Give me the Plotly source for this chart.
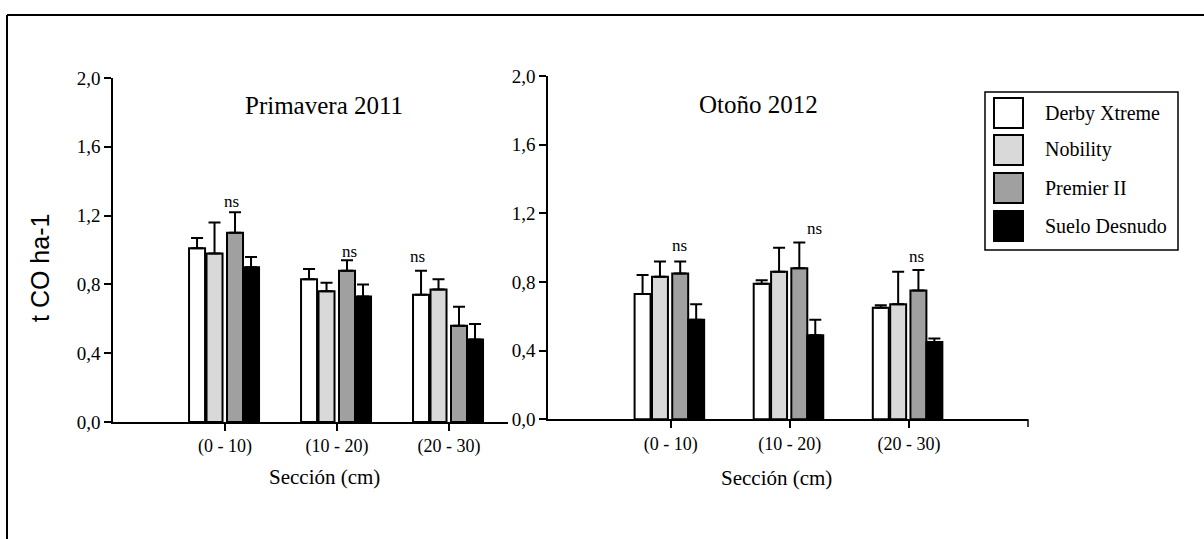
import plotly.graph_objects as go

# Depth sections and treatments
secciones = ["(0 - 10)", "(10 - 20)", "(20 - 30)"]
tratamientos = ["Derby Xtreme", "Nobility", "Premier II", "Suelo Desnudo"]
colores = ["#ffffff", "#d9d9d9", "#a0a0a0", "#000000"]

# Primavera 2011: means (t CO ha-1) and upper error
prim_derby = [1.01, 0.83, 0.74]
prim_nobility = [0.98, 0.76, 0.77]
prim_premier = [1.10, 0.88, 0.56]
prim_suelo = [0.90, 0.73, 0.48]
prim_err_derby = [0.06, 0.06, 0.14]
prim_err_nobility = [0.18, 0.05, 0.06]
prim_err_premier = [0.12, 0.06, 0.11]
prim_err_suelo = [0.06, 0.07, 0.09]

# Otoño 2012: means (t CO ha-1) and upper error
oto_derby = [0.73, 0.79, 0.65]
oto_nobility = [0.83, 0.86, 0.67]
oto_premier = [0.85, 0.88, 0.75]
oto_suelo = [0.58, 0.49, 0.45]
oto_err_derby = [0.11, 0.02, 0.015]
oto_err_nobility = [0.09, 0.14, 0.19]
oto_err_premier = [0.07, 0.15, 0.12]
oto_err_suelo = [0.09, 0.09, 0.02]

# "ns" labels: (section index shift, height) per panel
ns_prim = [(0.06, 1.28), (0.11, 0.99), (-0.28, 0.965)]
ns_oto = [(0.07, 1.01), (0.21, 1.11), (0.065, 0.95)]

W, H = 1204, 539
SERIF = "Liberation Serif"


def px(x):
    return x / W


def py(y):
    return 1 - y / H


fig = go.Figure()

panels = [
    ("x", "y", [prim_derby, prim_nobility, prim_premier, prim_suelo],
     [prim_err_derby, prim_err_nobility, prim_err_premier, prim_err_suelo],
     [-0.321, -0.165, 0.018, 0.161], 0.143),
    ("x2", "y2", [oto_derby, oto_nobility, oto_premier, oto_suelo],
     [oto_err_derby, oto_err_nobility, oto_err_premier, oto_err_suelo],
     [-0.303, -0.157, 0.013, 0.147], 0.134),
]

for xa, ya, series, errs, offsets, bw in panels:
    for name, vals, err, col, off in zip(tratamientos, series, errs, colores, offsets):
        fig.add_trace(go.Bar(
            x=secciones, y=vals, name=name, xaxis=xa, yaxis=ya,
            offset=off, width=bw, showlegend=False,
            marker=dict(color=col, line=dict(color="black", width=2)),
            error_y=dict(type="data", array=err, arrayminus=[0] * len(err),
                         symmetric=False, color="black", thickness=2, width=6),
        ))

axis_font = dict(family=SERIF, size=19, color="black")
cat_font = dict(family=SERIF, size=18, color="black")
common_x = dict(type="category", showline=True, linecolor="black", linewidth=1.5,
                ticks="outside", ticklen=7, tickwidth=1.5, tickcolor="black",
                tickfont=cat_font, showgrid=False, zeroline=False, automargin=False,
                categoryorder="array", categoryarray=secciones)
common_y = dict(range=[0, 2.0], tickvals=[0, 0.4, 0.8, 1.2, 1.6, 2.0], tickformat=".1f",
                showline=True, linecolor="black", linewidth=1.5,
                ticks="outside", ticklen=7, tickwidth=1.5, tickcolor="black",
                tickfont=axis_font, showgrid=False, zeroline=False, automargin=False)

fig.update_layout(
    width=W, height=H,
    margin=dict(l=0, r=0, t=0, b=0, pad=0, autoexpand=False),
    paper_bgcolor="white", plot_bgcolor="rgba(0,0,0,0)",
    separators=",.", barmode="overlay", showlegend=False,
    xaxis=dict(domain=[px(113), px(508)], range=[-1.0, 2.527], anchor="y", **common_x),
    yaxis=dict(domain=[py(422), py(78)], anchor="x", **common_y),
    xaxis2=dict(domain=[px(548), px(1028)], range=[-1.03, 3.0], anchor="y2", **common_x),
    yaxis2=dict(domain=[py(419.3), py(76)], anchor="x2", **common_y),
)


def paper_text(x, y, text, size, family=SERIF, angle=0, xanchor="center"):
    return dict(x=px(x), y=py(y), xref="paper", yref="paper", text=text,
                xanchor=xanchor, yanchor="middle", textangle=angle, showarrow=False,
                font=dict(family=family, size=size, color="black"))


annotations = []
for i, (dx, h) in enumerate(ns_prim):
    annotations.append(dict(x=i + dx, y=h, xref="x", yref="y", text="ns", showarrow=False,
                            xanchor="center", yanchor="middle",
                            font=dict(family=SERIF, size=17, color="black")))
for i, (dx, h) in enumerate(ns_oto):
    annotations.append(dict(x=i + dx, y=h, xref="x2", yref="y2", text="ns", showarrow=False,
                            xanchor="center", yanchor="middle",
                            font=dict(family=SERIF, size=17, color="black")))

# panel titles
annotations.append(paper_text(324, 106, "Primavera 2011", 25))
annotations.append(paper_text(758, 104, "Otoño 2012", 25))
# axis titles
annotations.append(paper_text(324, 477, "Sección (cm)", 21))
annotations.append(paper_text(776, 478, "Sección (cm)", 21))
annotations.append(paper_text(40, 268, "t CO ha-1", 25, family="Liberation Sans", angle=-90))

shapes = []
# outer frame (top and left edges)
shapes.append(dict(type="line", xref="paper", yref="paper", x0=px(7), x1=1.0, y0=py(15), y1=py(15),
                   line=dict(color="black", width=2)))
shapes.append(dict(type="line", xref="paper", yref="paper", x0=px(7), x1=px(7), y0=py(15), y1=0,
                   line=dict(color="black", width=2)))
# end tick of the right x axis
shapes.append(dict(type="line", xref="x2 domain", yref="paper", x0=1, x1=1,
                   y0=py(419.3), y1=py(427), line=dict(color="black", width=1.5)))

# legend box with large swatches
shapes.append(dict(type="rect", xref="paper", yref="paper", x0=px(985), x1=px(1178),
                   y0=py(250), y1=py(92), line=dict(color="black", width=1.5)))
row_y = [113, 150, 188, 226]
for name, col, yc in zip(tratamientos, colores, row_y):
    shapes.append(dict(type="rect", xref="paper", yref="paper", x0=px(994), x1=px(1023),
                       y0=py(yc + 15), y1=py(yc - 15), fillcolor=col,
                       line=dict(color="black", width=2)))
    annotations.append(paper_text(1043, yc, name, 20, xanchor="left"))

fig.update_layout(annotations=annotations, shapes=shapes)

fig.write_html("out.html")
